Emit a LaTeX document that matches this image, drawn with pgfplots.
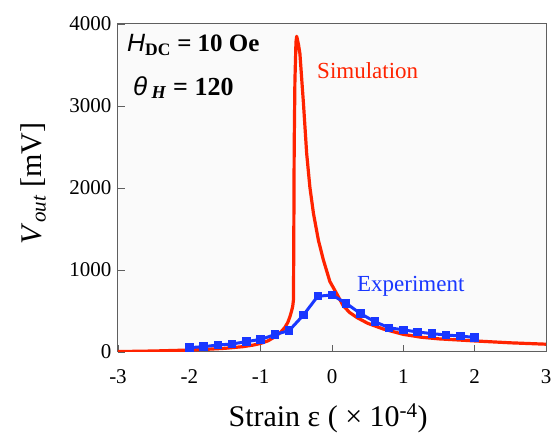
\documentclass[border=0pt]{standalone}
\usepackage{pgfplots}
\pgfplotsset{compat=1.18}
\usepackage{fontspec}
\setmainfont{Liberation Serif}
\newfontfamily\arialfont{Liberation Sans}
\definecolor{simred}{RGB}{255,35,0}
\definecolor{expblue}{RGB}{25,55,255}
\definecolor{axgray}{RGB}{95,95,95}
\definecolor{bggray}{RGB}{250,250,250}

% simulated output voltage (mV) vs strain (x1e-4)
\pgfplotstableread{
x y
-3.0 5
-2.5 12
-2.0 24
-1.75 33
-1.5 45
-1.25 65
-1.1 85
-1.0 105
-0.9 135
-0.8 185
-0.72 240
-0.66 300
-0.62 360
-0.59 430
-0.57 490
-0.55 560
-0.54 640
-0.535 1500
-0.53 2500
-0.52 3300
-0.505 3780
-0.495 3850
-0.47 3750
-0.45 3640
-0.40 3030
-0.355 2420
-0.31 2010
-0.26 1690
-0.19 1360
-0.12 1120
-0.03 860
0.06 720
0.16 560
0.25 480
0.35 420
0.5 350
0.72 280
1.0 215
1.25 180
1.5 160
2.0 135
2.5 112
3.0 95
}\simdata

% measured output voltage
\pgfplotstableread{
x y
-2.0 53
-1.8 65
-1.6 85
-1.4 98
-1.2 126
-1.0 154
-0.8 212
-0.6 262
-0.4 451
-0.2 680
0.0 695
0.2 593
0.4 468
0.6 370
0.8 295
1.0 270
1.2 244
1.4 224
1.6 207
1.8 195
2.0 177
}\expdata

\begin{document}
\begin{tikzpicture}
\useasboundingbox (0,0) rectangle (555pt,435pt);
\begin{axis}[
  at={(118pt,83pt)}, anchor=south west,
  scale only axis, width=428pt, height=328pt,
  xmin=-3, xmax=3, ymin=0, ymax=4000,
  xtick={-3,-2,-1,0,1,2,3},
  ytick={0,1000,2000,3000,4000},
  tick align=inside, xtick pos=bottom, ytick pos=left,
  major tick length=7pt,
  axis line style={axgray, line width=1pt},
  every tick/.style={axgray, line width=0.8pt},
  axis background/.style={fill=bggray},
  tick label style={font=\fontsize{21}{25}\selectfont},
  /pgf/number format/assume math mode=true,
  /pgf/number format/1000 sep={},
  xticklabel style={yshift=-14pt},
  yticklabel style={xshift=-3pt},
  xlabel={Strain ε ( × 10\textsuperscript{-4})},
  ylabel={\textit{V}\textsubscript{\textit{out}} [mV]},
  label style={font=\fontsize{30}{35}\selectfont},
  xlabel style={at={(axis description cs:0.491,-0.226)}, anchor=base},
  ylabel style={at={(axis description cs:-0.178,0.514)}, anchor=base},
]
\addplot[simred, line width=3.2pt, line join=round] table {\simdata};
\addplot[expblue, line width=3pt, mark=square*, mark size=3.7pt,
  mark options={fill=expblue, draw=expblue, line width=0pt}] table {\expdata};

\node[anchor=base west, inner sep=0, text=simred, font=\fontsize{23}{27}\selectfont]
  at (axis cs:-0.21,3341) {Simulation};
\node[anchor=base west, inner sep=0, text=expblue, font=\fontsize{23}{27}\selectfont]
  at (axis cs:0.35,732) {Experiment};
\node[anchor=base west, inner sep=0, font=\fontsize{25}{30}\selectfont\bfseries]
  at (axis cs:-2.874,3659) {{\arialfont\mdseries\itshape H}\textsubscript{DC} = 10 Oe};
\node[anchor=base west, inner sep=0, font=\fontsize{26}{30}\selectfont\bfseries]
  at (axis cs:-2.79,3134) {{\arialfont\mdseries\itshape θ}\,\textsubscript{\textit{H}} = 120};
\end{axis}
\end{tikzpicture}
\end{document}
